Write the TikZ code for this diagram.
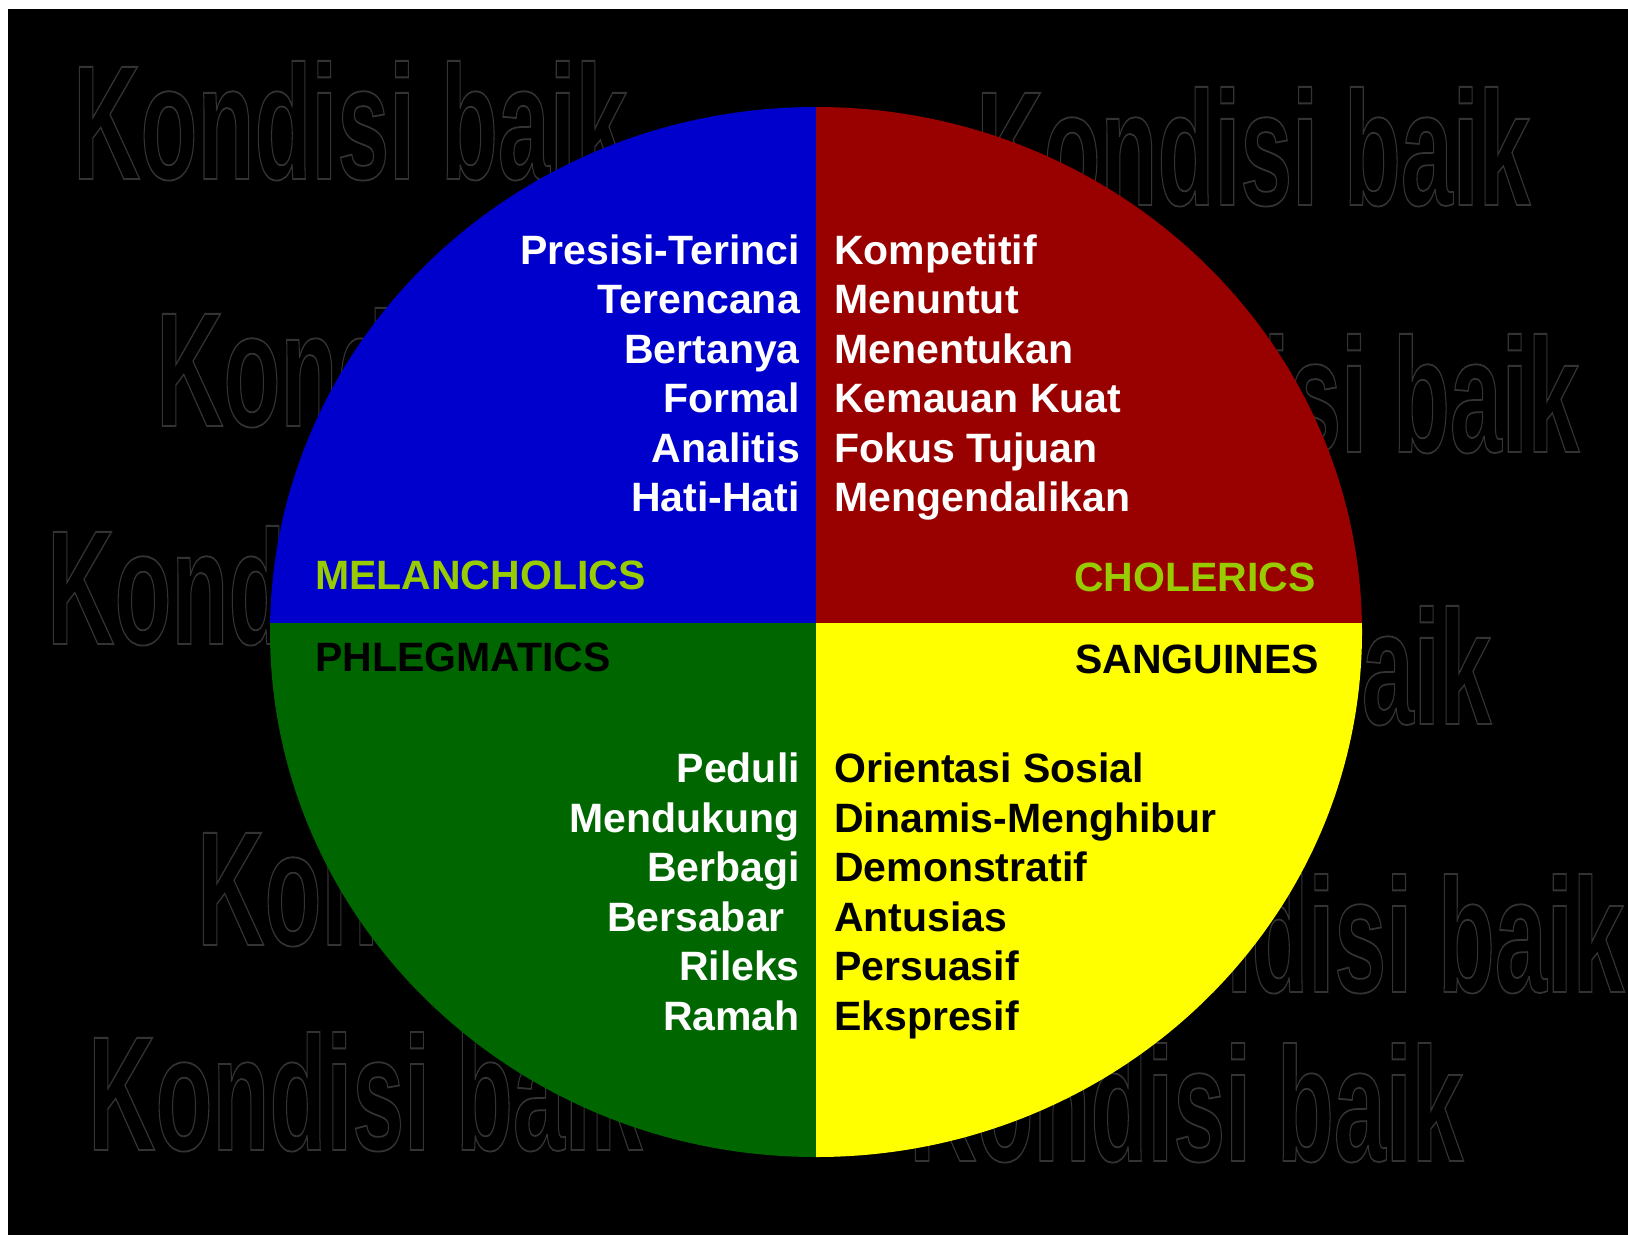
\documentclass[tikz,border=0pt]{standalone}
\usepackage{fontspec}
\usepackage{graphicx}
\setmainfont{Liberation Sans}
\definecolor{qblue}{HTML}{0000CC}
\definecolor{qred}{HTML}{990000}
\definecolor{qgreen}{HTML}{006600}
\definecolor{qyellow}{HTML}{FFFF00}
\definecolor{lblgreen}{HTML}{99CC00}
\definecolor{wmgrey}{HTML}{333333}
\newcommand\outlinetxt[1]{\special{pdf:literal direct 1 Tr 1.8 w}#1\special{pdf:literal direct 0 Tr}}
\begin{document}
\begin{tikzpicture}[x=1pt,y=-1pt,
  item/.style={inner sep=0pt, font=\fontsize{41}{48}\selectfont\bfseries},
  litem/.style={item, anchor=base east},
  ritem/.style={item, anchor=base west},
  wm/.style={inner sep=0pt, anchor=base west, text=wmgrey, font=\fontsize{163}{163}\selectfont\bfseries},
]
\fill[white] (0,0) rectangle (1628,1235);
\fill[black] (8,9) rectangle (1628,1235);
\useasboundingbox (0,0) rectangle (1628,1235);
% watermarks
\node[wm] (w1) at (73,179) {\scalebox{0.572}[1]{\outlinetxt{Kondisi baik}}};
\node[wm] (w2) at (976,205) {\scalebox{0.572}[1]{\outlinetxt{Kondisi baik}}};
\node[wm] (w3) at (156,426) {\scalebox{0.572}[1]{\outlinetxt{Kondisi baik}}};
\node[wm] (w4) at (1025,452) {\scalebox{0.572}[1]{\outlinetxt{Kondisi baik}}};
\node[wm] (w5) at (47,644) {\scalebox{0.572}[1]{\outlinetxt{Kondisi baik}}};
\node[wm] (w6) at (937,724) {\scalebox{0.572}[1]{\outlinetxt{Kondisi baik}}};
\node[wm] (w7) at (197,945) {\scalebox{0.572}[1]{\outlinetxt{Kondisi baik}}};
\node[wm] (w8) at (1070,992) {\scalebox{0.572}[1]{\outlinetxt{Kondisi baik}}};
\node[wm] (w9) at (88,1150) {\scalebox{0.572}[1]{\outlinetxt{Kondisi baik}}};
\node[wm] (w10) at (909,1161) {\scalebox{0.572}[1]{\outlinetxt{Kondisi baik}}};
% circle quadrants
\begin{scope}
\clip (816,632) ellipse [x radius=546, y radius=525];
\fill[qblue] (260,100) rectangle (816,623);
\fill[qred] (816,100) rectangle (1370,623);
\fill[qgreen] (260,623) rectangle (816,1160);
\fill[qyellow] (816,623) rectangle (1370,1160);
\end{scope}
% lists
\foreach \t [count=\i] in {Presisi-Terinci,Terencana,Bertanya,Formal,Analitis,Hati-Hati}
  \node[litem, text=white] (tl\i) at (800, 214.5+49.5*\i) {\t};
\foreach \t [count=\i] in {Kompetitif,Menuntut,Menentukan,Kemauan Kuat,Fokus Tujuan,Mengendalikan}
  \node[ritem, text=white] (tr\i) at (834, 214.5+49.5*\i) {\t};
\foreach \t [count=\i] in {Peduli,Mendukung,Berbagi,Bersabar\hspace*{15pt},Rileks,Ramah}
  \node[litem, text=white] (bl\i) at (800, 733+49.5*\i) {\t};
\foreach \t [count=\i] in {Orientasi Sosial,Dinamis-Menghibur,Demonstratif,Antusias,Persuasif,Ekspresif}
  \node[ritem, text=black] (br\i) at (834, 733+49.5*\i) {\t};
% labels
\node[ritem, text=lblgreen] (mel) at (315,589.5) {MELANCHOLICS};
\node[litem, text=lblgreen] (chol) at (1316,591.5) {CHOLERICS};
\node[ritem, text=black] (phl) at (315,671.5) {PHLEGMATICS};
\node[litem, text=black] (san) at (1319,673.5) {SANGUINES};
\end{tikzpicture}
\end{document}
